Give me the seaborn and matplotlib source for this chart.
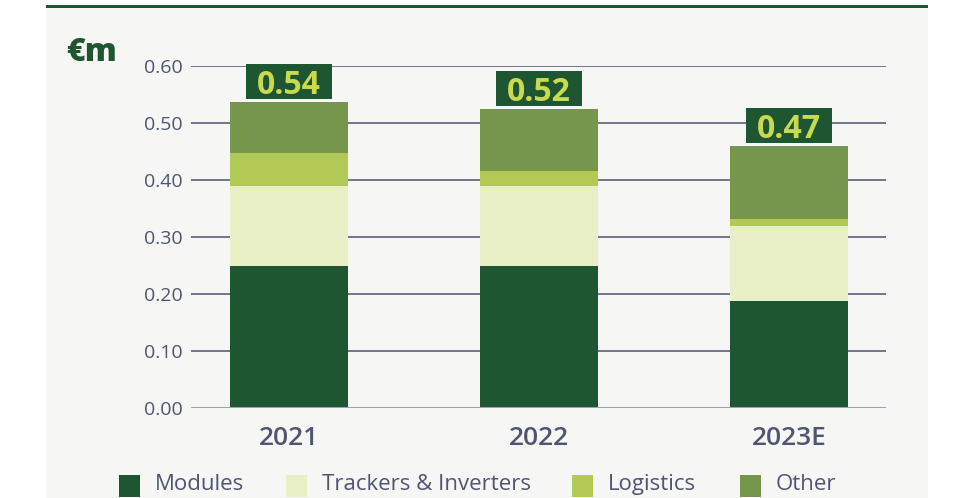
import matplotlib
matplotlib.use("Agg")
import matplotlib.pyplot as plt
from matplotlib.patches import Rectangle
import numpy as np
import pandas as pd
import seaborn as sns

# data (EUR m)
years = ["2021", "2022", "2023E"]
modules = [0.25, 0.25, 0.187]
trackers = [0.14, 0.14, 0.133]
logistics = [0.057, 0.025, 0.012]
other = [0.09, 0.11, 0.128]
totals = ["0.54", "0.52", "0.47"]
series_names = ["Modules", "Trackers & Inverters", "Logistics", "Other"]
yticks = [0.0, 0.1, 0.2, 0.3, 0.4, 0.5, 0.6]

colors = ["#1e5631", "#e8efc4", "#b3c955", "#76964b"]
DARK = "#1e5631"
LABEL = "#c9da4f"
TEXT = "#4f5573"
GRID = "#5a5f7a"
PANEL = "#f6f6f4"

W, H = 964, 498
sns.set_style("white")
plt.rcParams["font.family"] = ["Open Sans", "DejaVu Sans"]

fig = plt.figure(figsize=(W / 100, H / 100), dpi=100, facecolor="white")

def px(x, y):
    return x / W, 1 - y / H

# background panel and top rule
fig.patches.append(Rectangle(px(46, H), (928 - 46) / W, (H - 8) / H,
                             transform=fig.transFigure, facecolor=PANEL,
                             edgecolor="none", zorder=-2))
fig.patches.append(Rectangle(px(46, 8), (928 - 46) / W, 3 / H,
                             transform=fig.transFigure, facecolor=DARK,
                             edgecolor="none", zorder=-1))

left, right = 191 / W, 886 / W
bottom, top = 1 - 408 / H, 1 - 66 / H
ax = fig.add_axes([left, bottom, right - left, top - bottom])
ax.set_facecolor("none")
ax.set_zorder(1)

df = pd.DataFrame({"year": years, "Modules": modules,
                   "Trackers & Inverters": trackers,
                   "Logistics": logistics, "Other": other})
cum = df[series_names].cumsum(axis=1)

for i in range(len(series_names) - 1, -1, -1):
    sns.barplot(x=df["year"], y=cum[series_names[i]], color=colors[i],
                width=0.472, linewidth=0, saturation=1, ax=ax, zorder=3)

ax.set_xlim(-0.392, 2.388)
ax.set_ylim(0, 0.6)

# total labels in dark boxes (box size 86x35 px -> data units)
bw = 86 / 250
bh = 35 / 570
gap = 0.005
for i, lab in enumerate(totals):
    y0 = cum["Other"][i] + gap
    ax.add_patch(Rectangle((i - bw / 2, y0), bw, bh, facecolor=DARK,
                           edgecolor="none", zorder=5, clip_on=False))
    ax.text(i, y0 + bh / 2, lab, ha="center", va="center_baseline",
            fontsize=23, fontweight="bold", color=LABEL, zorder=6,
            clip_on=False)

for v in yticks[1:]:
    ax.axhline(v, color=GRID, lw=1.2, zorder=1)
ax.axhline(0, color="#9ea1b3", lw=2.2, zorder=4)

ax.set_yticks(yticks)
ax.set_yticklabels([f"{v:.2f}" for v in yticks])
ax.set_xlabel("")
ax.set_ylabel("")
ax.tick_params(axis="y", length=0, pad=6, labelsize=14, labelcolor=TEXT)
ax.tick_params(axis="x", length=0, pad=13, labelsize=19, labelcolor=TEXT)
for t in ax.get_xticklabels():
    t.set_fontweight("semibold")
sns.despine(ax=ax, left=True, bottom=True)

fig.text(*px(66, 53), "€m", ha="left", va="center", fontsize=23,
         fontweight="heavy", color=DARK)

# legend
sq_x = [119, 286, 572, 740]
for x0, name, c in zip(sq_x, series_names, colors):
    fig.patches.append(Rectangle(px(x0, 497), 21 / W, 22 / H,
                                 transform=fig.transFigure, facecolor=c,
                                 edgecolor="none", zorder=2))
    fig.text(*px(x0 + 36, 484), name, ha="left", va="center", fontsize=16,
             color=TEXT)

fig.savefig("out.png", dpi=100, facecolor="white")
